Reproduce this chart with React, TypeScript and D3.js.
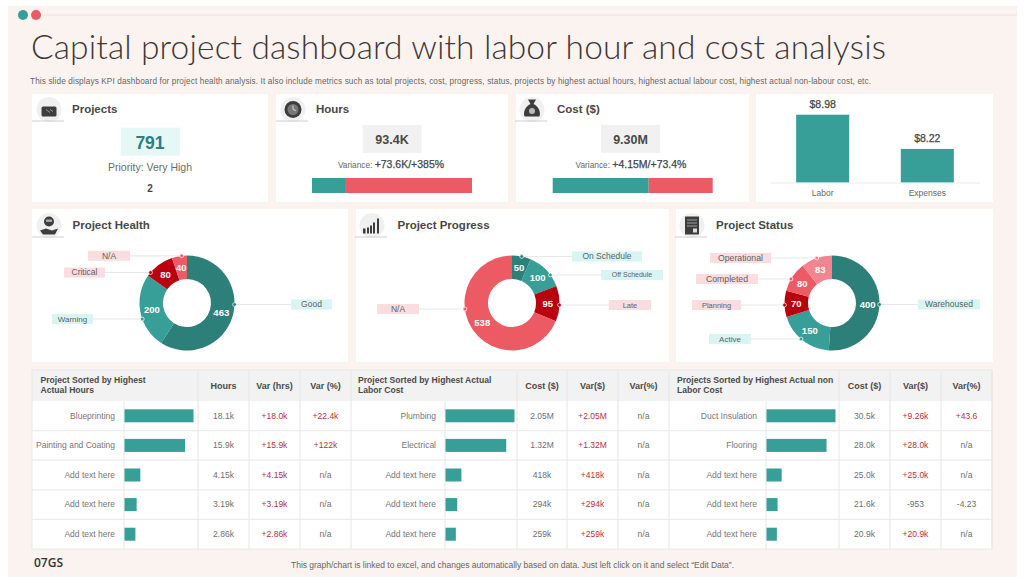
import React from 'react';
import * as d3 from 'd3';

const TEAL_DARK = '#2d7f79';
const TEAL = '#389e98';
const RED_DARK = '#b8000f';
const CORAL = '#ec5a64';
const PINK = '#f2858f';
const SANS = '"Liberation Sans", Arial, sans-serif';

// donuts
const healthLabels = ['Good', 'Warning', 'Critical', 'N/A'];
const healthValues = [463, 200, 80, 40];
const progressLabels = ['On Schedule', 'Off Schedule', 'Late', 'N/A'];
const progressValues = [50, 100, 95, 538];
const statusLabels = ['Warehoused', 'Active', 'Planning', 'Completed', 'Operational'];
const statusValues = [400, 150, 70, 80, 83];

// top row
const hoursSplit = [19.8, 73.6];
const costSplit = [5.58, 3.72];
const spendLabels = ['Labor', 'Expenses'];
const spendValues = [8.98, 8.22];

// table 1
const hoursNames = ['Blueprinting', 'Painting and Coating', 'Add text here', 'Add text here', 'Add text here'];
const hoursBars = [18.1, 15.9, 4.15, 3.19, 2.86];
const hoursCol = ['18.1k', '15.9k', '4.15k', '3.19k', '2.86k'];
const hoursVar = ['+18.0k', '+15.9k', '+4.15k', '+3.19k', '+2.86k'];
const hoursPct = ['+22.4k', '+122k', 'n/a', 'n/a', 'n/a'];

// table 2, bars as drawn in the picture (% of longest)
const laborNames = ['Plumbing', 'Electrical', 'Add text here', 'Add text here', 'Add text here'];
const laborBars = [100, 88, 23, 17, 15];
const laborCol = ['2.05M', '1.32M', '418k', '294k', '259k'];
const laborVar = ['+2.05M', '+1.32M', '+418k', '+294k', '+259k'];
const laborPct = ['n/a', 'n/a', 'n/a', 'n/a', 'n/a'];

// table 3, bars as drawn in the picture (% of longest)
const nonLaborNames = ['Duct Insulation', 'Flooring', 'Add text here', 'Add text here', 'Add text here'];
const nonLaborBars = [100, 87, 22, 16, 15];
const nonLaborCol = ['30.5k', '28.0k', '25.0k', '21.6k', '20.9k'];
const nonLaborVar = ['+9.26k', '+28.0k', '+25.0k', '-953', '+20.9k'];
const nonLaborPct = ['+43.6', 'n/a', 'n/a', '-4.23', 'n/a'];

const rowY = d3.scaleBand<number>().domain([0, 1, 2, 3, 4]).range([401, 549]);

const Txt = ({ x, y, size = 8.5, fill = '#6e6e6e', weight = 400, anchor = 'middle', children, ...rest }: any) => (
  <text x={x} y={y} fontSize={size} fill={fill} fontWeight={weight} textAnchor={anchor} fontFamily={SANS} {...rest}>
    {children}
  </text>
);

const Card = ({ x0, x1, y0, y1 }: any) => <rect x={x0} y={y0} width={x1 - x0} height={y1 - y0} fill="#fff" />;

// header icon: grey disc, underline and a small glyph
const Icon = ({ cx, cy, kind }: any) => {
  const c = '#3d3d3d';
  let glyph: React.ReactNode = null;
  if (kind === 'projects') {
    glyph = (
      <>
        <rect x={-7.5} y={-3} width={15} height={10} rx={1.5} fill={c} />
        <path d="M-3,0 L1,3 M1,0 L4,2" stroke="#9a9a9a" strokeWidth={1} />
      </>
    );
  } else if (kind === 'hours') {
    glyph = (
      <>
        <circle r={8.5} fill={c} />
        <circle r={5.5} fill="#777" />
        <path d="M0,0 L0,-4 M0,0 L3,1" stroke="#eee" strokeWidth={0.8} />
      </>
    );
  } else if (kind === 'cost') {
    glyph = (
      <>
        <path d="M-4,-10 L4,-10 L1.5,-5.5 C7,-3 9,3 7.5,7 L-7.5,7 C-9,3 -7,-3 -1.5,-5.5 Z" fill={c} />
        <circle cy={1.5} r={3} fill="#bbb" />
      </>
    );
  } else if (kind === 'health') {
    glyph = (
      <>
        <circle cy={-4} r={5} fill={c} />
        <rect x={-3} y={-6} width={6} height={2.4} fill="#aaa" />
        <path d="M-9,5 L-3,3 L3,5 L9,3 L6,9 L-6,9 Z" fill={c} />
      </>
    );
  } else if (kind === 'progress') {
    glyph = (
      <path
        d="M-9,8 h2.5 v-5 h-2.5 Z M-5,8 h2 v-6 h-2 Z M-2,8 h2 v-8 h-2 Z M1,8 h2 v-11 h-2 Z M5,8 h2 v-15 h-2 Z"
        fill={c}
      />
    );
  } else {
    glyph = (
      <>
        <rect x={-7} y={-9} width={14} height={18} fill={c} />
        <path d="M-5,-5.5 H5 M-5,-2.5 H5 M-5,0.5 H5" stroke="#aaa" strokeWidth={0.9} />
        <rect x={1} y={3} width={4} height={4} fill="#ddd" />
      </>
    );
  }
  return (
    <g>
      <circle cx={cx} cy={cy} r={12.5} fill="#f0f0f0" />
      <g transform={`translate(${cx},${cy})`}>{glyph}</g>
      <line x1={cx - 17} x2={cx + 15} y1={cy + 11.5} y2={cy + 11.5} stroke="#cfcfcf" strokeWidth={1} />
    </g>
  );
};

const Head = ({ x, y, title, iconX, kind }: any) => (
  <>
    <Icon cx={iconX} cy={y - 3.5} kind={kind} />
    <Txt x={x} y={y} size={11.5} fill="#474747" weight={700} anchor="start">
      {title}
    </Txt>
  </>
);

const SplitBar = ({ x0, x1, y0, y1, values }: any) => {
  const x = d3.scaleLinear().domain([0, d3.sum(values) as number]).range([x0, x1]);
  return (
    <>
      <rect x={x(0)} y={y0} width={x(values[0]) - x(0)} height={y1 - y0} fill={TEAL} />
      <rect x={x(values[0])} y={y0} width={x1 - x(values[0])} height={y1 - y0} fill={CORAL} />
    </>
  );
};

const Donut = ({ cx, cy, labels, values, colors, callouts }: any) => {
  const outer = 47.5;
  const pie = d3.pie<number>().sort(null).value((d) => d);
  const arc = d3.arc<d3.PieArcDatum<number>>().innerRadius(24).outerRadius(outer);
  const slices = pie(values);
  return (
    <g>
      <g transform={`translate(${cx},${cy})`}>
        {slices.map((s, i) => (
          <path key={i} d={arc(s) as string} fill={colors[i]} />
        ))}
      </g>
      {slices.map((s, i) => {
        const [dx, dy] = arc.centroid(s);
        const { x, w, y, size } = callouts[i];
        const left = x < cx;
        const off = Math.sqrt(Math.max(0, outer * outer - (y - cy) * (y - cy)));
        const dotX = left ? cx - off : cx + off;
        const red = colors[i] !== TEAL && colors[i] !== TEAL_DARK;
        return (
          <g key={i}>
            <Txt x={cx + dx} y={cy + dy + 3.3} size={9.5} fill="#fff" weight={700}>
              {values[i]}
            </Txt>
            <line x1={left ? x + w : x} x2={dotX} y1={y} y2={y} stroke="#e8e8e8" strokeWidth={1.2} />
            <circle cx={dotX} cy={y} r={1.9} fill={colors[i]} stroke="#fff" strokeWidth={0.7} />
            <rect x={x} y={y - 5} width={w} height={10} fill={red ? '#f9dde0' : '#d8f5f3'} />
            <Txt x={x + w / 2} y={y + size * 0.35} size={size} fill="#5f5f5f">
              {labels[i]}
            </Txt>
          </g>
        );
      })}
    </g>
  );
};

const Table = ({ x, head, cols, names, bars, maxBar, col1, col2, col3 }: any) => {
  // x = [bar start, first value col, second, third, right edge], head x is the left edge
  const [barX, c1, c2, c3, right] = x;
  const w = d3.scaleLinear().domain([0, maxBar]).range([0, 69]);
  const centers = [(c1 + c2) / 2, (c2 + c3) / 2, (c3 + right) / 2];
  return (
    <g>
      <Txt x={head.x} y={382.5} size={8.6} fill="#4a4a4a" weight={700} anchor="start">
        {head.lines[0]}
      </Txt>
      <Txt x={head.x} y={393} size={8.6} fill="#4a4a4a" weight={700} anchor="start">
        {head.lines[1]}
      </Txt>
      {cols.map((c: string, i: number) => (
        <Txt key={c} x={centers[i]} y={388.5} size={9} fill="#4a4a4a" weight={700}>
          {c}
        </Txt>
      ))}
      {names.map((n: string, i: number) => {
        const top = rowY(i) as number;
        const mid = top + rowY.bandwidth() / 2;
        const isRed = (s: string) => s.startsWith('+');
        return (
          <g key={i}>
            <Txt x={barX - 9} y={mid + 2.8} anchor="end" fill="#767676">
              {n}
            </Txt>
            <rect x={barX + 0.5} y={mid - 6.5} width={w(bars[i])} height={13} fill={TEAL} />
            <Txt x={centers[0]} y={mid + 2.8}>{col1[i]}</Txt>
            <Txt x={centers[1]} y={mid + 2.8} fill={isRed(col2[i]) ? '#b5303f' : '#6e6e6e'}>
              {col2[i]}
            </Txt>
            <Txt x={centers[2]} y={mid + 2.8} fill={isRed(col3[i]) ? '#b5303f' : '#6e6e6e'}>
              {col3[i]}
            </Txt>
          </g>
        );
      })}
    </g>
  );
};

const T1 = [124, 198, 249, 300, 351];
const T2 = [445, 517, 567, 618, 669];
const T3 = [766, 839, 890, 941, 992];

export default function App() {
  const spendX = d3.scaleBand<string>().domain(spendLabels).range([770, 980]).paddingInner(0.493).paddingOuter(0.25);
  const spendY = d3.scaleLinear().domain([7.47, 8.98]).range([182.7, 114.7]);

  const verticals = [...T1, ...T2, ...T3];

  return (
    <svg width={1024} height={577} style={{ position: 'fixed', left: 0, top: 0, background: '#fff' }}>
      <rect x={8} y={6} width={1009} height={571} fill="#fbf3ef" />
      <line x1={42} x2={1017} y1={15} y2={15} stroke="#eee6e1" strokeWidth={1.2} />
      <circle cx={23} cy={15} r={5} fill={TEAL} />
      <circle cx={36} cy={15} r={5} fill={CORAL} />

      <text x={31} y={59} fontSize={33.5} fill="#3c3836" fontWeight={300} fontFamily='Lato, "Open Sans", sans-serif' textLength={855} lengthAdjust="spacing">
        Capital project dashboard with labor hour and cost analysis
      </text>
      <Txt x={30} y={84} size={8.2} fill="#666" anchor="start" textLength={841} lengthAdjust="spacing">
        This slide displays KPI dashboard for project health analysis. It also include metrics such as total projects, cost, progress, status,  projects by highest actual hours, highest actual labour cost, highest actual non-labour cost, etc.
      </Txt>

      <Card x0={32} x1={268} y0={94} y1={202} />
      <Card x0={276} x1={508} y0={94} y1={202} />
      <Card x0={516} x1={749} y0={94} y1={202} />
      <Card x0={756} x1={993} y0={94} y1={202} />
      <Card x0={32} x1={348} y0={209} y1={362} />
      <Card x0={356} x1={669} y0={209} y1={362} />
      <Card x0={676} x1={993} y0={209} y1={362} />

      <Head x={72} y={113} title="Projects" iconX={49} kind="projects" />
      <rect x={120.7} y={127.7} width={59.3} height={28} fill="#e6f8f6" />
      <Txt x={150} y={149} size={17.5} fill={TEAL_DARK} weight={700}>791</Txt>
      <Txt x={150} y={171} size={10.5} fill="#6a6a6a">Priority: Very High</Txt>
      <Txt x={150} y={192} size={10} fill="#444" weight={700}>2</Txt>

      <Head x={316} y={113} title="Hours" iconX={293} kind="hours" />
      <rect x={362.7} y={125} width={59} height={28} fill="#f1f1f1" />
      <Txt x={392} y={144} size={12.5} fill="#484848" weight={700}>93.4K</Txt>
      <Txt x={391} y={168} size={8.3} fill="#666">
        Variance: <tspan fontSize={10.5} fill="#444" stroke="#444" strokeWidth={0.25}>+73.6K/+385%</tspan>
      </Txt>
      <SplitBar x0={312} x1={472} y0={178} y1={193} values={hoursSplit} />

      <Head x={557} y={113} title="Cost ($)" iconX={532} kind="cost" />
      <rect x={601} y={125} width={59} height={28} fill="#f1f1f1" />
      <Txt x={630.5} y={144} size={12.5} fill="#484848" weight={700}>9.30M</Txt>
      <Txt x={631} y={168} size={8.3} fill="#666">
        Variance: <tspan fontSize={10.5} fill="#444" stroke="#444" strokeWidth={0.25}>+4.15M/+73.4%</tspan>
      </Txt>
      <SplitBar x0={552.7} x1={712.7} y0={178} y1={193} values={costSplit} />

      {spendLabels.map((l, i) => {
        const bx = spendX(l) as number;
        const mid = bx + spendX.bandwidth() / 2;
        return (
          <g key={l}>
            <rect x={bx} y={spendY(spendValues[i])} width={spendX.bandwidth()} height={spendY.range()[0] - spendY(spendValues[i])} fill={TEAL} />
            <Txt x={mid} y={spendY(spendValues[i]) - 6.5} size={10.5} fill="#444" stroke="#444" strokeWidth={0.25}>
              {d3.format('$.2f')(spendValues[i])}
            </Txt>
            <Txt x={mid} y={196} size={8.5} fill="#666">{l}</Txt>
          </g>
        );
      })}
      <line x1={770} x2={980} y1={183} y2={183} stroke="#ececec" strokeWidth={1} />

      <Head x={72.5} y={229} title="Project Health" iconX={49} kind="health" />
      <Donut
        cx={187}
        cy={303}
        labels={healthLabels}
        values={healthValues}
        colors={[TEAL_DARK, TEAL, RED_DARK, CORAL]}
        callouts={[
          { x: 291, w: 41, y: 304.5, size: 8.5 },
          { x: 52, w: 41, y: 319, size: 8 },
          { x: 64, w: 41, y: 272.5, size: 8.5 },
          { x: 88, w: 42, y: 255.8, size: 8.5 },
        ]}
      />

      <Head x={397.5} y={229} title="Project Progress" iconX={372} kind="progress" />
      <Donut
        cx={512}
        cy={303}
        labels={progressLabels}
        values={progressValues}
        colors={[TEAL_DARK, TEAL, RED_DARK, CORAL]}
        callouts={[
          { x: 572, w: 70, y: 256.5, size: 8.5 },
          { x: 601, w: 62, y: 275, size: 7 },
          { x: 609, w: 42, y: 305, size: 7.5 },
          { x: 377, w: 42, y: 309, size: 8.5 },
        ]}
      />

      <Head x={716} y={229} title="Project Status" iconX={692} kind="status" />
      <Donut
        cx={832}
        cy={303}
        labels={statusLabels}
        values={statusValues}
        colors={[TEAL_DARK, TEAL, RED_DARK, CORAL, PINK]}
        callouts={[
          { x: 918, w: 62, y: 304.5, size: 8.5 },
          { x: 709, w: 42, y: 339, size: 8 },
          { x: 692, w: 49, y: 305, size: 7.5 },
          { x: 696, w: 62, y: 279, size: 8.7 },
          { x: 710, w: 61, y: 258, size: 8.7 },
        ]}
      />

      {/* table frame */}
      <rect x={32} y={370} width={960} height={179} fill="#fff" />
      <rect x={32} y={370} width={960} height={31} fill="#f2f2f2" />
      {[1, 2, 3, 4].map((i) => (
        <line key={i} x1={32} x2={992} y1={rowY(i)} y2={rowY(i)} stroke="#ececec" strokeWidth={1.3} />
      ))}
      {verticals.map((v, i) => {
        const isBarEdge = i % 5 === 0;
        return <line key={i} x1={v} x2={v} y1={isBarEdge ? 401 : 370} y2={549} stroke="#e6e6e6" strokeWidth={1} />;
      })}
      <rect x={32} y={370} width={960} height={179} fill="none" stroke="#e8e8e8" strokeWidth={1} />

      <Table
        x={T1}
        head={{ x: 40.5, lines: ['Project Sorted by Highest', 'Actual Hours'] }}
        cols={['Hours', 'Var (hrs)', 'Var (%)']}
        names={hoursNames}
        bars={hoursBars}
        maxBar={d3.max(hoursBars)}
        col1={hoursCol}
        col2={hoursVar}
        col3={hoursPct}
      />
      <Table
        x={T2}
        head={{ x: 358, lines: ['Project Sorted by Highest Actual', 'Labor Cost'] }}
        cols={['Cost ($)', 'Var($)', 'Var(%)']}
        names={laborNames}
        bars={laborBars}
        maxBar={d3.max(laborBars)}
        col1={laborCol}
        col2={laborVar}
        col3={laborPct}
      />
      <Table
        x={T3}
        head={{ x: 677, lines: ['Projects Sorted by Highest Actual non', 'Labor Cost'] }}
        cols={['Cost ($)', 'Var($)', 'Var(%)']}
        names={nonLaborNames}
        bars={nonLaborBars}
        maxBar={d3.max(nonLaborBars)}
        col1={nonLaborCol}
        col2={nonLaborVar}
        col3={nonLaborPct}
      />

      <text x={34} y={567} fontSize={12} fill="#333" fontFamily='"Open Sans", sans-serif' fontWeight={600}>07GS</text>
      <Txt x={291} y={568} size={8.5} fill="#666" anchor="start" textLength={443} lengthAdjust="spacing">
        This graph/chart is linked to excel, and changes automatically based on data. Just left click on it and select “Edit Data”.
      </Txt>
    </svg>
  );
}
